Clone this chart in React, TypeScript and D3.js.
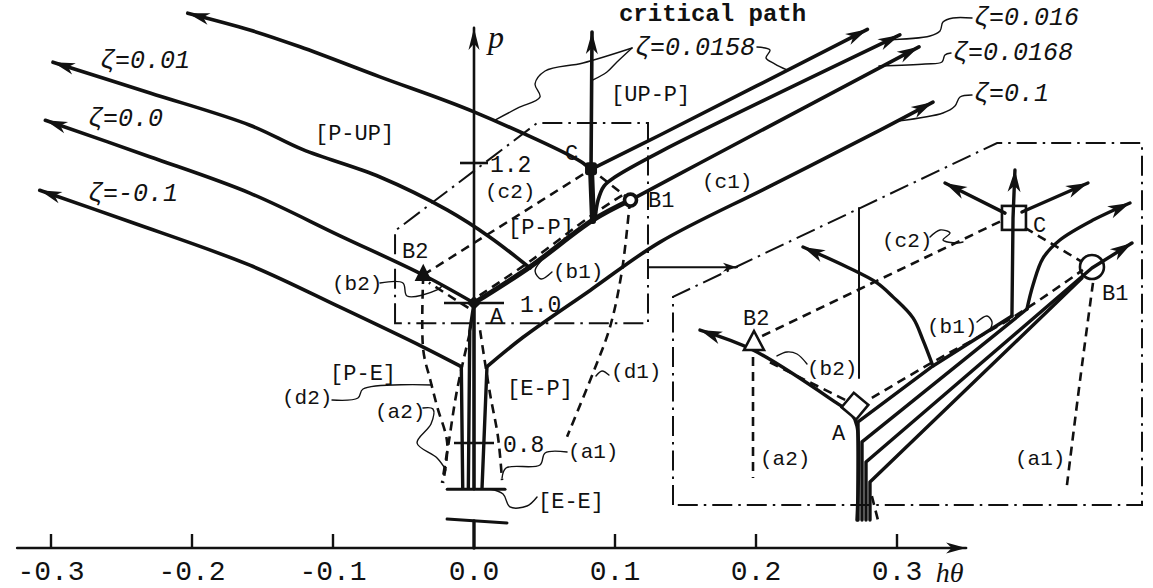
import React from 'react';
import * as d3 from 'd3';

type Pt = [number, number];
type Label = { t: string; at: Pt };

// ---------- main diagram, coordinates in (hθ, p) ----------
const hTicks = [-0.3, -0.2, -0.1, 0.0, 0.1, 0.2, 0.3];
const hTickLabels = ['-0.3', '-0.2', '-0.1', '0.0', '0.1', '0.2', '0.3'];
const pTicks = [0.8, 1.0, 1.2];
const pTickLabels = ['0.8', '1.0', '1.2'];
const axisBaseP = 0.65; // where the (broken) hθ axis is drawn
const axisStartH = -0.324;
const axisEndH = 0.349;
const pAxisTopP = 1.393;

// stems rising from the lower cut of the p axis (E-E region)
const stemNeg: Pt[] = [[-0.008, 0.736], [-0.009, 0.909]];
const stemZero: Pt[] = [[-0.004, 0.736], [-0.003, 0.96], [0, 1.0]];
const stemMid: Pt[] = [[0, 0.736], [0, 1.0]];
const stemPos: Pt[] = [[0.0057, 0.736], [0.0092, 0.909]];
const cutBar: Pt[] = [[-0.019, 0.734], [0.022, 0.734]];
const breakStem: Pt[] = [[0, 0.65], [0, 0.6886]];
const breakBar: Pt[] = [[-0.0191, 0.6914], [0.0234, 0.6857]];

// trajectories
const trajM01: Pt[] = [[-0.009, 0.909], [-0.036, 0.937], [-0.095, 0.994], [-0.159, 1.054], [-0.244, 1.116], [-0.308, 1.161]];
const traj00: Pt[] = [[0, 1.0], [-0.036, 1.04], [-0.095, 1.096], [-0.159, 1.157], [-0.23, 1.209], [-0.304, 1.261]];
const trajP1: Pt[] = [[0.0092, 0.909], [0.0348, 0.951], [0.0823, 1.018], [0.1319, 1.087], [0.21, 1.167], [0.288, 1.247], [0.3255, 1.287]];
const diagAB1: Pt[] = [[0, 1.0], [0.04, 1.052], [0.084, 1.118], [0.111, 1.147]];
const traj001: Pt[] = [[0.0397, 1.05], [0.0113, 1.094], [-0.0191, 1.133], [-0.0667, 1.18], [-0.1213, 1.219], [-0.1589, 1.254], [-0.2298, 1.3], [-0.2986, 1.344]];
const critRise: Pt[] = [[0.0844, 1.117], [0.083, 1.191]];
const critLeft: Pt[] = [[0.082, 1.191], [0.0773, 1.2], [0, 1.273], [-0.0667, 1.323], [-0.1234, 1.366], [-0.159, 1.39], [-0.203, 1.414]];
const critUp: Pt[] = [[0.083, 1.191], [0.0837, 1.387]];
const critRight: Pt[] = [[0.083, 1.191], [0.132, 1.24], [0.279, 1.391]];
const traj016: Pt[] = [[0.0858, 1.12], [0.088, 1.147], [0.0922, 1.167], [0.1, 1.18], [0.132, 1.216], [0.302, 1.383]];
const traj0168: Pt[] = [[0.111, 1.147], [0.1603, 1.2], [0.3156, 1.366]];

// dashed boundary curves
const dashC2: Pt[] = [[-0.036, 1.04], [0.083, 1.191], [0.111, 1.147]];
const dashB1: Pt[] = [[0.004, 1.011], [0.04, 1.06], [0.084, 1.126], [0.106, 1.155]];
const dashB2: Pt[] = [[-0.004, 0.993], [-0.032, 1.029]];
const dashD2: Pt[] = [[-0.036, 1.04], [-0.036, 0.933], [-0.031, 0.89], [-0.026, 0.851], [-0.019, 0.8], [-0.022, 0.743]];
const dashA2: Pt[] = [[-0.003, 0.957], [-0.012, 0.876], [-0.018, 0.8], [-0.0227, 0.743]];
const dashA1: Pt[] = [[0.0043, 0.961], [0.0113, 0.871], [0.017, 0.809], [0.0199, 0.747]];
const dashD1: Pt[] = [[0.1106, 1.147], [0.105, 1.047], [0.0965, 0.966], [0.0844, 0.9], [0.066, 0.809]];

// enlarged-region frame and its pointer
const zoomBox: Pt[] = [[-0.056, 0.971], [-0.056, 1.103], [0.0447, 1.257], [0.1234, 1.257], [0.1234, 0.971]];
const zoomPointer: Pt[] = [[0.1234, 1.051], [0.1865, 1.051]];

// special points
const ptA: Pt = [0, 1.0];
const ptB2: Pt = [-0.036, 1.04];
const ptC: Pt = [0.083, 1.191];
const ptB1: Pt = [0.111, 1.147];

// leader lines
const leaders: Pt[][] = [
  [[0.0149, 1.2614], [0.0312, 1.2786], [0.0468, 1.2943], [0.0433, 1.3129], [0.0504, 1.3314], [0.0773, 1.3429], [0.1121, 1.3643]],
  [[0.0844, 1.3186], [0.0943, 1.33], [0.1014, 1.3443], [0.1121, 1.3643]],
  [[0.2007, 1.3657], [0.2099, 1.3614], [0.2071, 1.35], [0.2135, 1.3414], [0.222, 1.3329]],
  [[0.3532, 1.4071], [0.3397, 1.4071], [0.3326, 1.4014], [0.3305, 1.3886], [0.3234, 1.3814], [0.2894, 1.3757]],
  [[0.3383, 1.3571], [0.334, 1.3543], [0.3319, 1.3443], [0.3199, 1.3414], [0.2872, 1.3386]],
  [[0.3532, 1.2971], [0.3447, 1.2943], [0.3411, 1.2814], [0.3326, 1.2714], [0.3007, 1.26]],
  [[-0.0667, 1.0286], [-0.0504, 1.0286], [-0.0475, 1.01], [-0.0262, 1.0186], [-0.022, 1.0257]],
  [[0.0553, 1.0443], [0.0475, 1.0343], [0.0433, 1.0457], [0.0475, 1.06]],
  [[-0.1007, 0.8614], [-0.0823, 0.8643], [-0.0787, 0.8771], [-0.0298, 0.8829]],
  [[-0.0362, 0.85], [-0.0291, 0.8486], [-0.0305, 0.8271], [-0.0404, 0.8], [-0.0262, 0.7786], [-0.0199, 0.7614]],
  [[0.066, 0.7871], [0.0504, 0.7857], [0.0468, 0.7686], [0.0227, 0.7643], [0.0199, 0.75]],
  [[0.0113, 0.7343], [0.0206, 0.7271], [0.0255, 0.7086], [0.0376, 0.71], [0.0447, 0.7229]],
  [[0.0865, 0.8957], [0.0908, 0.9029], [0.0957, 0.8971]],
];

const zetaLabels: Label[] = [
  { t: 'ζ=0.01', at: [-0.2652, 1.336] },
  { t: 'ζ=0.0', at: [-0.2738, 1.253] },
  { t: 'ζ=-0.1', at: [-0.2738, 1.146] },
  { t: 'ζ=0.0158', at: [0.1142, 1.354] },
  { t: 'ζ=0.016', at: [0.3546, 1.397] },
  { t: 'ζ=0.0168', at: [0.3397, 1.347] },
  { t: 'ζ=0.1', at: [0.3546, 1.289] },
];
const regionLabels: Label[] = [
  { t: '[P-UP]', at: [-0.1128, 1.233] },
  { t: '[UP-P]', at: [0.0972, 1.289] },
  { t: '[P-P]', at: [0.0241, 1.099] },
  { t: '[P-E]', at: [-0.1021, 0.89] },
  { t: '[E-P]', at: [0.0234, 0.8686] },
  { t: '[E-E]', at: [0.0454, 0.707] },
];
const curveLabels: Label[] = [
  { t: '(c2)', at: [0.0078, 1.15] },
  { t: '(b1)', at: [0.056, 1.036] },
  { t: '(c1)', at: [0.1617, 1.164] },
  { t: '(b2)', at: [-0.1007, 1.019] },
  { t: '(d2)', at: [-0.1362, 0.8557] },
  { t: '(a2)', at: [-0.0702, 0.836] },
  { t: '(d1)', at: [0.0972, 0.893] },
  { t: '(a1)', at: [0.0667, 0.779] },
];
const pointLabels: Label[] = [
  { t: 'A', at: [0.0113, 0.971] },
  { t: 'B1', at: [0.1234, 1.137] },
  { t: 'B2', at: [-0.0511, 1.064] },
  { t: 'C', at: [0.0645, 1.204] },
];
const pathTitle: Label = { t: 'critical path', at: [0.1028, 1.403] };
const pAxisName: Label = { t: 'p', at: [0.0099, 1.364] };
const hAxisName: Label = { t: 'hθ', at: [0.3275, 0.602] };

// ---------- enlarged sketch, local units 0..100 ----------
const insetFrame: Pt[] = [[0, 1.9], [0, 58.3], [69.1, 100], [100, 100], [100, 1.9]];
const insetAxis: Pt[] = [[39.66, 82.4], [39.66, 36.3]];
const iTraj00: Pt[] = [[39.23, -2.17], [39.23, 23.3], [37.95, 26.8], [35.18, 29.3], [17.06, 43.9], [5.76, 49.3]];
const iBundle1: Pt[] = [[39.45, -2.17], [39.45, 24.4], [55.43, 39.57], [72.27, 53.12]];
const iBundle2: Pt[] = [[40.3, -2.17], [40.3, 19.0], [75.47, 55.0]];
const iBundle3: Pt[] = [[41.15, -2.17], [41.15, 13.55], [89.33, 66.12], [97.86, 72.9]];
const iBundle4: Pt[] = [[42.0, -2.17], [42.0, 8.13], [87.2, 63.4]];
const iTraj016: Pt[] = [[75.47, 55.0], [76.76, 61.5], [78.9, 68.8], [82.5, 73.7], [89.55, 79.1], [97.43, 83.74]];
const iTraj001: Pt[] = [[55.43, 39.57], [53.3, 46.6], [51.17, 52.6], [46.9, 58.3], [43.5, 62.1], [37.1, 66.4], [27.72, 71.82]];
const iCritUp: Pt[] = [[72.27, 53.12], [72.5, 79.7], [72.91, 92.68]];
const iCritLeft: Pt[] = [[70.8, 81.0], [57.99, 89.16]];
const iCritRight: Pt[] = [[74.4, 81.3], [88.48, 89.16]];
const iDashC2: Pt[] = [[19.0, 47.7], [70.36, 79.1]];
const iDashCB1: Pt[] = [[75.05, 77.0], [87.2, 67.8]];
const iDashB1: Pt[] = [[42.4, 30.9], [55.43, 40.65], [72.27, 52.6], [87.4, 65.6]];
const iDashB2: Pt[] = [[36.7, 30.4], [19.6, 41.2]];
const iDashA2: Pt[] = [[17.06, 42.0], [17.06, 9.2]];
const iDashA1: Pt[] = [[89.55, 62.1], [86.8, 35.8], [84.0, 7.3]];
const iDashFoot: Pt[] = [[42.4, 4.3], [43.7, -2.2]];
const iPtA: Pt = [38.8, 28.7];
const iPtB2: Pt = [17.27, 46.07];
const iPtC: Pt = [72.7, 79.7];
const iPtB1: Pt = [89.33, 66.4];
const iLeaders: Pt[][] = [
  [[54.8, 74.5], [56.93, 76.42], [59.06, 75.61], [57.57, 73.71], [60.55, 72.9], [61.83, 73.17]],
  [[64.82, 51.49], [66.95, 53.12], [68.02, 51.49], [67.59, 49.32]],
  [[28.57, 40.11], [26.44, 42.82], [24.31, 43.36], [22.17, 42.28]],
];
const iPointLabels: Label[] = [
  { t: 'A', at: [33.9, 19.5] },
  { t: 'B2', at: [14.93, 50.68] },
  { t: 'C', at: [76.76, 75.88] },
  { t: 'B1', at: [91.47, 57.45] },
];
const iCurveLabels: Label[] = [
  { t: '(c2)', at: [44.56, 71.82] },
  { t: '(b1)', at: [54.16, 48.51] },
  { t: '(b2)', at: [28.57, 37.13] },
  { t: '(a2)', at: [18.55, 12.74] },
  { t: '(a1)', at: [72.92, 12.74] },
];

// ---------- scales and helpers ----------
const MONO = "'Liberation Mono', 'DejaVu Sans Mono', monospace";
const SERIF = "'Liberation Serif', 'DejaVu Serif', serif";
const INK = '#111';

const x = d3.scaleLinear().domain([0, 0.1]).range([474, 615]);
const y = d3.scaleLinear().domain([1.0, 1.2]).range([303, 163]);
const u = d3.scaleLinear().domain([0, 100]).range([673, 1142]);
const v = d3.scaleLinear().domain([0, 100]).range([512, 143]);

type Proj = (d: Pt) => [number, number];
const pm: Proj = (d) => [x(d[0]), y(d[1])];
const pi: Proj = (d) => [u(d[0]), v(d[1])];

const gen = (proj: Proj, smooth: boolean) =>
  d3
    .line<Pt>()
    .x((d) => proj(d)[0])
    .y((d) => proj(d)[1])
    .curve(smooth ? d3.curveCatmullRom.alpha(0.5) : d3.curveLinear);

const mLin = gen(pm, false);
const mSm = gen(pm, true);
const iLin = gen(pi, false);
const iSm = gen(pi, true);

// notched arrowhead at the last point of a polyline
function head(pts: Pt[], proj: Proj, L = 22, W = 12): string {
  const [ax, ay] = proj(pts[pts.length - 2]);
  const [bx, by] = proj(pts[pts.length - 1]);
  const len = Math.hypot(bx - ax, by - ay) || 1;
  const ux = (bx - ax) / len;
  const uy = (by - ay) / len;
  const nx = -uy;
  const ny = ux;
  const cx = bx - ux * L;
  const cy = by - uy * L;
  const kx = bx - ux * L * 0.72;
  const ky = by - uy * L * 0.72;
  return `M${bx},${by}L${cx + (nx * W) / 2},${cy + (ny * W) / 2}L${kx},${ky}L${cx - (nx * W) / 2},${cy - (ny * W) / 2}Z`;
}

const solid = (w: number) => ({ fill: 'none', stroke: INK, strokeWidth: w, strokeLinejoin: 'round' as const, strokeLinecap: 'round' as const });
const dashed = { fill: 'none', stroke: INK, strokeWidth: 2.6, strokeDasharray: '9 6' };
const dashDot = { fill: 'none', stroke: INK, strokeWidth: 2, strokeDasharray: '20 6 2.5 6' };
const thin = { fill: 'none', stroke: INK, strokeWidth: 1.4, strokeLinecap: 'round' as const, strokeLinejoin: 'round' as const };

const pTickHalf = [20, 30, 14];
const pTickLabelGap = [29, 46, 16];

export default function App() {
  const base = y(axisBaseP);
  const arrowsMain: Pt[][] = [trajM01, traj00, trajP1, traj001, critLeft, critUp, critRight, traj016, traj0168];
  const arrowsInset: Pt[][] = [iTraj00, iTraj001, iCritUp, iCritLeft, iCritRight, iTraj016, iBundle3];

  const txt = (l: Label, proj: Proj, size: number, extra: Record<string, any> = {}) => {
    const [px, py] = proj(l.at);
    return (
      <text key={l.t + px} x={px} y={py} fontSize={size} fill={INK} {...extra}>
        {l.t}
      </text>
    );
  };

  const hAxisLine: Pt[] = [[axisStartH, axisBaseP], [axisEndH, axisBaseP]];
  const pAxisLine: Pt[] = [[0, 0.734], [0, pAxisTopP]];

  return (
    <svg width={1153} height={588} viewBox="0 0 1153 588" style={{ position: 'absolute', left: 0, top: 0 }} fontFamily={MONO}>
      <rect x={0} y={0} width={1153} height={588} fill="#fff" />

      {/* hθ axis */}
      <path d={mLin(hAxisLine) || ''} {...solid(2.6)} />
      <path d={head(hAxisLine, pm, 20, 11)} fill={INK} />
      {hTicks.map((t, i) =>
        t === 0 ? null : (
          <line key={'ht' + i} x1={x(t)} x2={x(t)} y1={base} y2={base - 14} stroke={INK} strokeWidth={2.4} />
        )
      )}
      <path d={mLin(breakStem) || ''} {...solid(3.4)} />
      <path d={mLin(breakBar) || ''} {...solid(3)} />
      {hTicks.map((t, i) => (
        <text key={'hl' + i} x={x(t)} y={base + 32} fontSize={28} textAnchor="middle" fill={INK}>
          {hTickLabels[i]}
        </text>
      ))}
      {txt(hAxisName, pm, 28, { fontFamily: SERIF, fontStyle: 'italic' })}

      {/* p axis */}
      <path d={mLin(pAxisLine) || ''} {...solid(2.6)} />
      <path d={head(pAxisLine, pm, 22, 11)} fill={INK} />
      {pTicks.map((t, i) => (
        <g key={'pt' + i}>
          <line x1={x(0) - pTickHalf[i]} x2={x(0) + pTickHalf[i]} y1={y(t)} y2={y(t)} stroke={INK} strokeWidth={2.6} />
          <text x={x(0) + pTickLabelGap[i]} y={y(t) + 9} fontSize={23} fill={INK}>
            {pTickLabels[i]}
          </text>
        </g>
      ))}
      {txt(pAxisName, pm, 32, { fontFamily: SERIF, fontStyle: 'italic' })}

      {/* enlarged-region frame */}
      <path d={(mLin(zoomBox) || '') + 'Z'} {...dashDot} />
      <path d={mLin(zoomPointer) || ''} {...solid(2)} />
      <path d={head(zoomPointer, pm, 14, 9)} fill={INK} />

      {/* dashed boundaries */}
      <path d={mLin(dashC2) || ''} {...dashed} />
      {[dashB1, dashB2, dashD2, dashA2, dashA1, dashD1].map((d, i) => (
        <path key={'dd' + i} d={mSm(d) || ''} {...dashed} />
      ))}

      {/* trajectories */}
      {[stemNeg, stemZero, stemMid, stemPos].map((d, i) => (
        <path key={'st' + i} d={mLin(d) || ''} {...solid(3.4)} />
      ))}
      <path d={mLin(cutBar) || ''} {...solid(3)} />
      {[trajM01, traj00, trajP1, traj001, critLeft, critRight, traj016, traj0168].map((d, i) => (
        <path key={'tr' + i} d={mSm(d) || ''} {...solid(3.6)} />
      ))}
      <path d={mSm(diagAB1) || ''} {...solid(5)} />
      <path d={mLin(critRise) || ''} {...solid(6)} />
      <path d={mLin(critUp) || ''} {...solid(3.6)} />
      {arrowsMain.map((d, i) => (
        <path key={'ah' + i} d={head(d, pm)} fill={INK} />
      ))}

      {/* special points */}
      <rect x={x(ptA[0]) - 5} y={y(ptA[1]) - 5} width={10} height={10} fill={INK} transform={`rotate(45 ${x(ptA[0])} ${y(ptA[1])})`} />
      <path
        d={`M${x(ptB2[0])},${y(ptB2[1]) - 9}L${x(ptB2[0]) + 7},${y(ptB2[1]) + 5}L${x(ptB2[0]) - 7},${y(ptB2[1]) + 5}Z`}
        fill={INK}
        stroke={INK}
        strokeWidth={2}
      />
      <rect x={x(ptC[0]) - 6} y={y(ptC[1]) - 7} width={12} height={13} rx={3} fill={INK} />
      <circle cx={x(ptB1[0])} cy={y(ptB1[1])} r={6} fill="#fff" stroke={INK} strokeWidth={3.6} />

      {/* leaders */}
      {leaders.map((d, i) => (
        <path key={'ld' + i} d={mSm(d) || ''} {...thin} />
      ))}

      {/* labels */}
      {zetaLabels.map((l) => txt(l, pm, 25, { fontStyle: 'italic' }))}
      {regionLabels.map((l) => txt(l, pm, 22))}
      {curveLabels.map((l) => txt(l, pm, 21))}
      {pointLabels.map((l) => txt(l, pm, 22))}
      {txt(pathTitle, pm, 24, { fontWeight: 'bold' })}

      {/* ---------- enlarged sketch ---------- */}
      <path d={(iLin(insetFrame) || '') + 'Z'} {...dashDot} />
      <path d={iLin(insetAxis) || ''} {...solid(2)} />
      {[iDashC2, iDashCB1, iDashB2, iDashA2, iDashFoot].map((d, i) => (
        <path key={'idl' + i} d={iLin(d) || ''} {...dashed} />
      ))}
      {[iDashB1, iDashA1].map((d, i) => (
        <path key={'ids' + i} d={iSm(d) || ''} {...dashed} />
      ))}
      {[iBundle1, iBundle2, iBundle3, iBundle4].map((d, i) => (
        <path key={'ib' + i} d={iLin(d) || ''} {...solid(3.4)} />
      ))}
      {[iTraj00, iTraj016, iTraj001].map((d, i) => (
        <path key={'it' + i} d={iSm(d) || ''} {...solid(3.4)} />
      ))}
      {[iCritUp, iCritLeft, iCritRight].map((d, i) => (
        <path key={'ic' + i} d={iLin(d) || ''} {...solid(3.4)} />
      ))}
      {arrowsInset.map((d, i) => (
        <path key={'iah' + i} d={head(d, pi, 22, 13)} fill={INK} />
      ))}
      <rect
        x={u(iPtA[0]) - 9.5}
        y={v(iPtA[1]) - 9.5}
        width={19}
        height={19}
        fill="#fff"
        stroke={INK}
        strokeWidth={2.6}
        transform={`rotate(40 ${u(iPtA[0])} ${v(iPtA[1])})`}
      />
      <path
        d={`M${u(iPtB2[0])},${v(iPtB2[1]) - 11}L${u(iPtB2[0]) + 10},${v(iPtB2[1]) + 8}L${u(iPtB2[0]) - 10},${v(iPtB2[1]) + 8}Z`}
        fill="#fff"
        stroke={INK}
        strokeWidth={2.6}
      />
      <rect x={u(iPtC[0]) - 12} y={v(iPtC[1]) - 12} width={24} height={24} fill="none" stroke={INK} strokeWidth={2.6} />
      <circle cx={u(iPtB1[0])} cy={v(iPtB1[1])} r={12} fill="none" stroke={INK} strokeWidth={2.6} />
      {iLeaders.map((d, i) => (
        <path key={'il' + i} d={iSm(d) || ''} {...thin} />
      ))}
      {iPointLabels.map((l) => txt(l, pi, 22))}
      {iCurveLabels.map((l) => txt(l, pi, 21))}
    </svg>
  );
}
